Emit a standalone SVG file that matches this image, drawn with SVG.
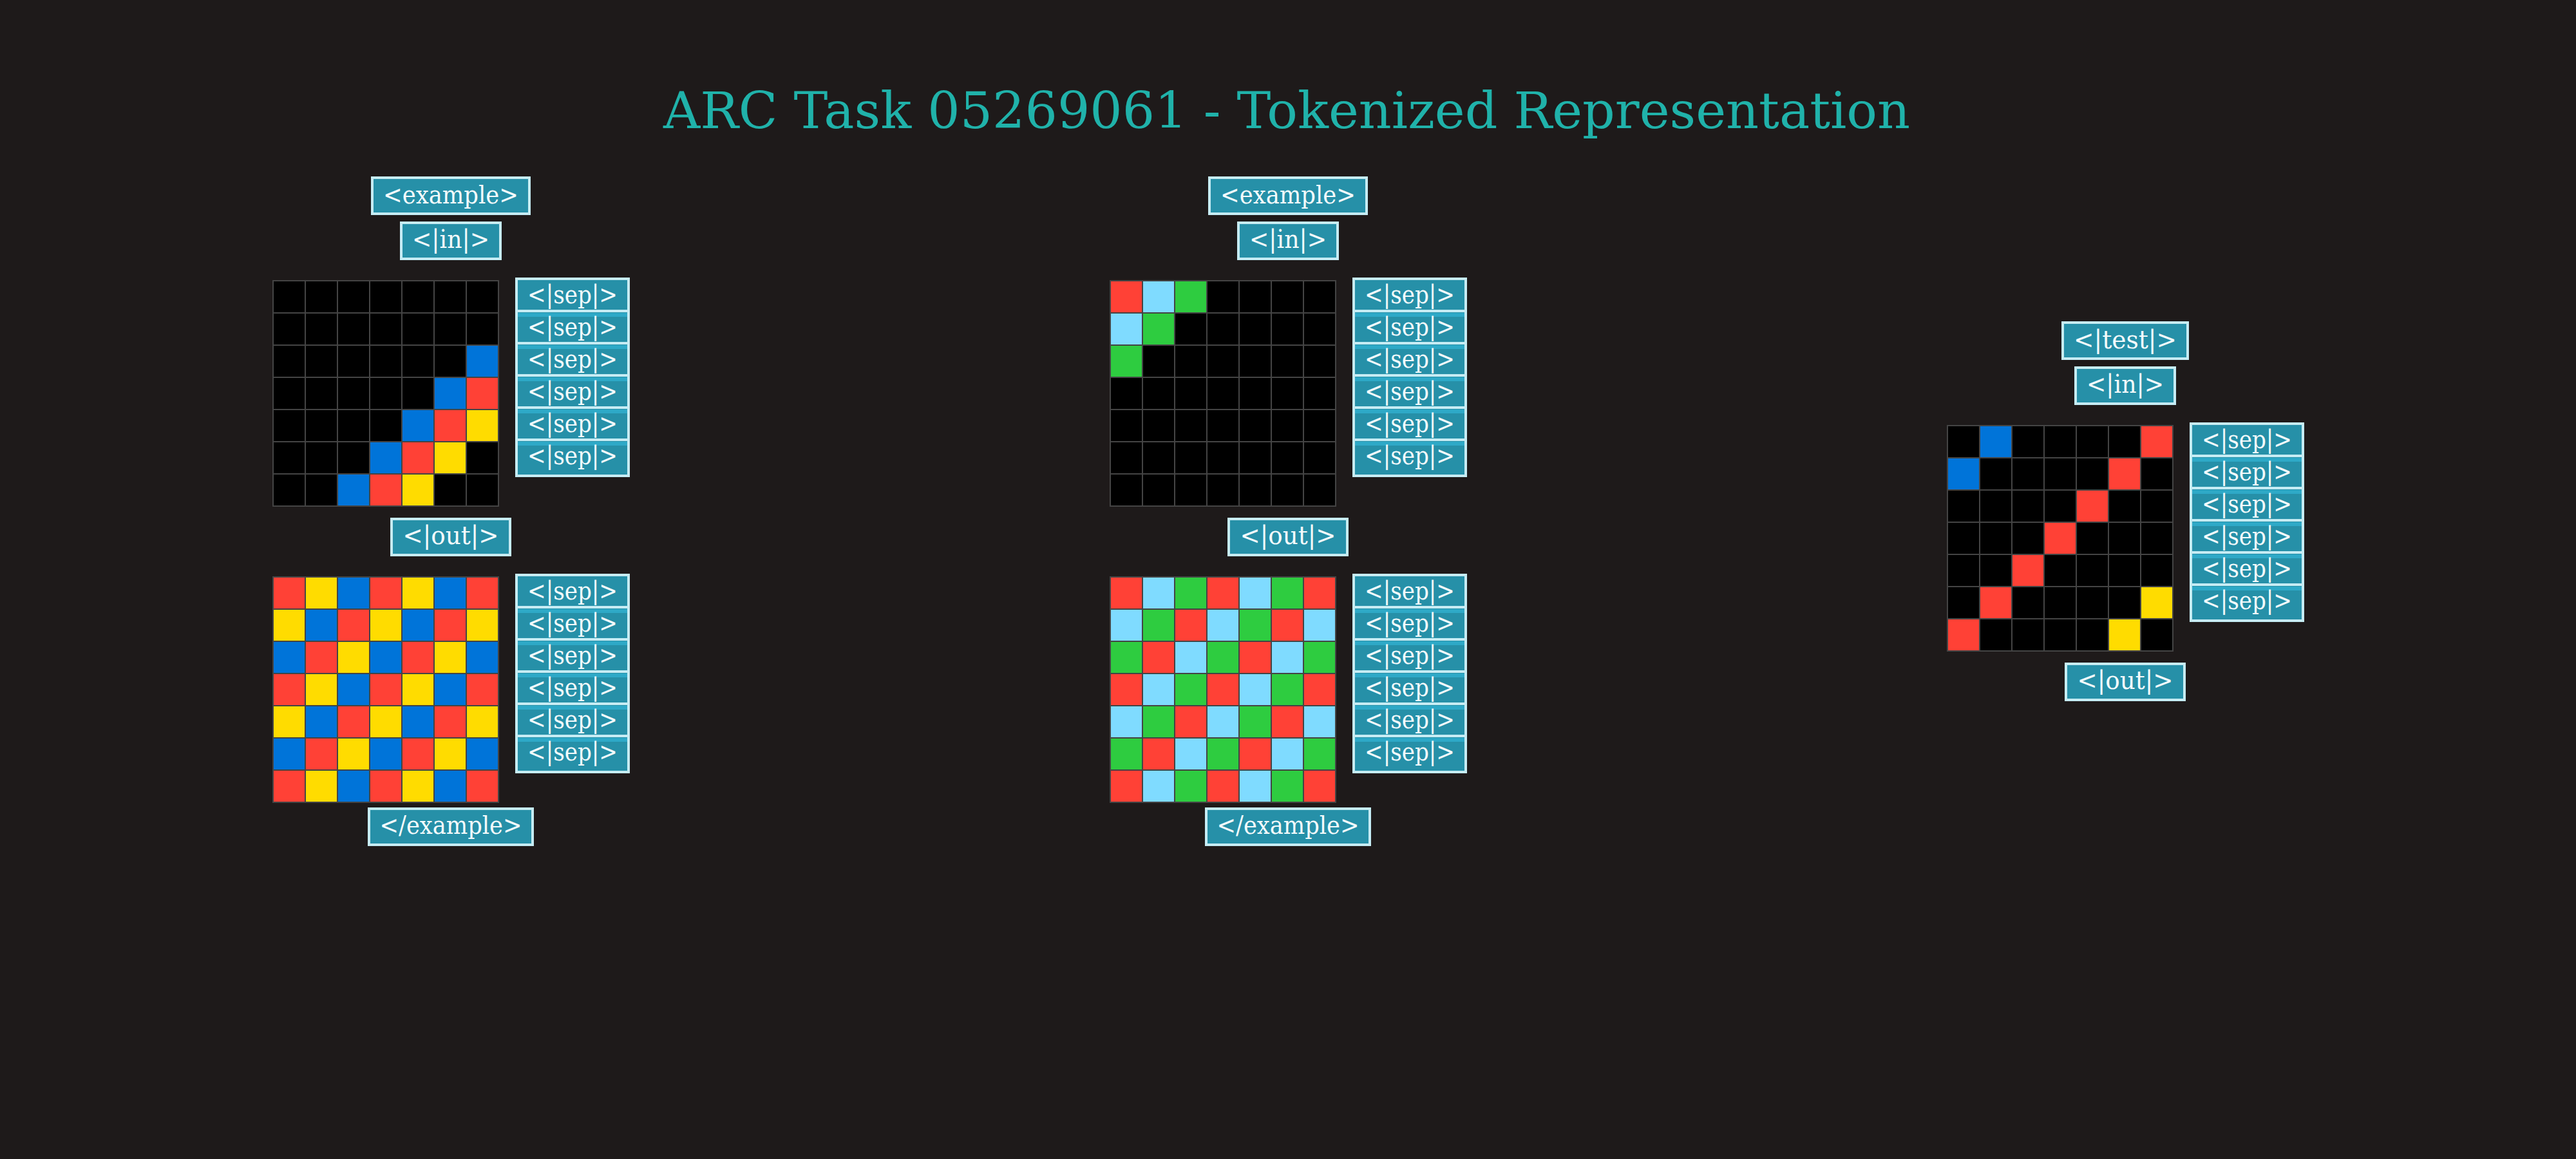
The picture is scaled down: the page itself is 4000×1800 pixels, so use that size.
<svg xmlns="http://www.w3.org/2000/svg" width="4000" height="1800" viewBox="0 0 4000 1800">
<style>
.bg{fill:#1e1a1a}
.title{font-family:"DejaVu Serif","Liberation Serif",serif;font-size:78px;fill:#20b2aa}
.box{fill:#2690a8;stroke:#c6ecf4;stroke-width:4}
.stripe{fill:#2ea9c7}
.lbl{font-family:"DejaVu Serif","Liberation Serif",serif;font-size:40px;fill:#f4fbfc;text-anchor:middle}
.k{fill:#000000}.b{fill:#0074d9}.r{fill:#ff4136}.y{fill:#ffdc00}.c{fill:#7fdbff}.g{fill:#2ecc40}
.gl{fill:none;stroke:#444444;stroke-width:2}
</style>
<defs>
<path id="lines" class="gl" d="M0,0H350V350H0Z M50,0V350 M100,0V350 M150,0V350 M200,0V350 M250,0V350 M300,0V350 M0,50H350 M0,100H350 M0,150H350 M0,200H350 M0,250H350 M0,300H350"/>
</defs>
<rect class="bg" x="0" y="0" width="4000" height="1800"/>
<text id="title" class="title" x="1030" y="199" textLength="1936" lengthAdjust="spacingAndGlyphs">ARC Task 05269061 - Tokenized Representation</text>

<g id="connectors"></g>

<!-- Example 1 -->
<g id="ex1-example"><rect class="box" x="578" y="276" width="244" height="56"/><text class="lbl" x="700" y="316" textLength="210" lengthAdjust="spacingAndGlyphs">&lt;example&gt;</text></g>
<g id="ex1-in"><rect class="box" x="623" y="346" width="154" height="56"/><text class="lbl" x="700" y="385" textLength="120" lengthAdjust="spacingAndGlyphs">&lt;|in|&gt;</text></g>
<g id="ex1-input-grid">
<rect class="k" x="424" y="436" width="350" height="350"/>
<rect class="b" x="724" y="536" width="50" height="50"/>
<rect class="b" x="674" y="586" width="50" height="50"/><rect class="r" x="724" y="586" width="50" height="50"/>
<rect class="b" x="624" y="636" width="50" height="50"/><rect class="r" x="674" y="636" width="50" height="50"/><rect class="y" x="724" y="636" width="50" height="50"/>
<rect class="b" x="574" y="686" width="50" height="50"/><rect class="r" x="624" y="686" width="50" height="50"/><rect class="y" x="674" y="686" width="50" height="50"/>
<rect class="b" x="524" y="736" width="50" height="50"/><rect class="r" x="574" y="736" width="50" height="50"/><rect class="y" x="624" y="736" width="50" height="50"/>
<use href="#lines" x="424" y="436"/>
</g>
<g id="ex1-in-sep">
<rect class="box" x="802" y="433" width="174" height="56"/><text class="lbl" x="889" y="471" textLength="140" lengthAdjust="spacingAndGlyphs">&lt;|sep|&gt;</text>
<rect class="box" x="802" y="483" width="174" height="56"/><rect class="stripe" x="804" y="486" width="170" height="6"/><text class="lbl" x="889" y="521" textLength="140" lengthAdjust="spacingAndGlyphs">&lt;|sep|&gt;</text>
<rect class="box" x="802" y="533" width="174" height="56"/><rect class="stripe" x="804" y="536" width="170" height="6"/><text class="lbl" x="889" y="571" textLength="140" lengthAdjust="spacingAndGlyphs">&lt;|sep|&gt;</text>
<rect class="box" x="802" y="583" width="174" height="56"/><rect class="stripe" x="804" y="586" width="170" height="6"/><text class="lbl" x="889" y="621" textLength="140" lengthAdjust="spacingAndGlyphs">&lt;|sep|&gt;</text>
<rect class="box" x="802" y="633" width="174" height="56"/><rect class="stripe" x="804" y="636" width="170" height="6"/><text class="lbl" x="889" y="671" textLength="140" lengthAdjust="spacingAndGlyphs">&lt;|sep|&gt;</text>
<rect class="box" x="802" y="683" width="174" height="56"/><rect class="stripe" x="804" y="686" width="170" height="6"/><text class="lbl" x="889" y="721" textLength="140" lengthAdjust="spacingAndGlyphs">&lt;|sep|&gt;</text>
</g>
<g id="ex1-out"><rect class="box" x="608" y="806" width="184" height="56"/><text class="lbl" x="700" y="845" textLength="149" lengthAdjust="spacingAndGlyphs">&lt;|out|&gt;</text></g>
<g id="ex1-output-grid">
<rect class="r" x="424" y="896" width="50" height="50"/><rect class="y" x="474" y="896" width="50" height="50"/><rect class="b" x="524" y="896" width="50" height="50"/><rect class="r" x="574" y="896" width="50" height="50"/><rect class="y" x="624" y="896" width="50" height="50"/><rect class="b" x="674" y="896" width="50" height="50"/><rect class="r" x="724" y="896" width="50" height="50"/>
<rect class="y" x="424" y="946" width="50" height="50"/><rect class="b" x="474" y="946" width="50" height="50"/><rect class="r" x="524" y="946" width="50" height="50"/><rect class="y" x="574" y="946" width="50" height="50"/><rect class="b" x="624" y="946" width="50" height="50"/><rect class="r" x="674" y="946" width="50" height="50"/><rect class="y" x="724" y="946" width="50" height="50"/>
<rect class="b" x="424" y="996" width="50" height="50"/><rect class="r" x="474" y="996" width="50" height="50"/><rect class="y" x="524" y="996" width="50" height="50"/><rect class="b" x="574" y="996" width="50" height="50"/><rect class="r" x="624" y="996" width="50" height="50"/><rect class="y" x="674" y="996" width="50" height="50"/><rect class="b" x="724" y="996" width="50" height="50"/>
<rect class="r" x="424" y="1046" width="50" height="50"/><rect class="y" x="474" y="1046" width="50" height="50"/><rect class="b" x="524" y="1046" width="50" height="50"/><rect class="r" x="574" y="1046" width="50" height="50"/><rect class="y" x="624" y="1046" width="50" height="50"/><rect class="b" x="674" y="1046" width="50" height="50"/><rect class="r" x="724" y="1046" width="50" height="50"/>
<rect class="y" x="424" y="1096" width="50" height="50"/><rect class="b" x="474" y="1096" width="50" height="50"/><rect class="r" x="524" y="1096" width="50" height="50"/><rect class="y" x="574" y="1096" width="50" height="50"/><rect class="b" x="624" y="1096" width="50" height="50"/><rect class="r" x="674" y="1096" width="50" height="50"/><rect class="y" x="724" y="1096" width="50" height="50"/>
<rect class="b" x="424" y="1146" width="50" height="50"/><rect class="r" x="474" y="1146" width="50" height="50"/><rect class="y" x="524" y="1146" width="50" height="50"/><rect class="b" x="574" y="1146" width="50" height="50"/><rect class="r" x="624" y="1146" width="50" height="50"/><rect class="y" x="674" y="1146" width="50" height="50"/><rect class="b" x="724" y="1146" width="50" height="50"/>
<rect class="r" x="424" y="1196" width="50" height="50"/><rect class="y" x="474" y="1196" width="50" height="50"/><rect class="b" x="524" y="1196" width="50" height="50"/><rect class="r" x="574" y="1196" width="50" height="50"/><rect class="y" x="624" y="1196" width="50" height="50"/><rect class="b" x="674" y="1196" width="50" height="50"/><rect class="r" x="724" y="1196" width="50" height="50"/>
<use href="#lines" x="424" y="896"/>
</g>
<g id="ex1-out-sep">
<rect class="box" x="802" y="893" width="174" height="56"/><text class="lbl" x="889" y="931" textLength="140" lengthAdjust="spacingAndGlyphs">&lt;|sep|&gt;</text>
<rect class="box" x="802" y="943" width="174" height="56"/><rect class="stripe" x="804" y="946" width="170" height="6"/><text class="lbl" x="889" y="981" textLength="140" lengthAdjust="spacingAndGlyphs">&lt;|sep|&gt;</text>
<rect class="box" x="802" y="993" width="174" height="56"/><rect class="stripe" x="804" y="996" width="170" height="6"/><text class="lbl" x="889" y="1031" textLength="140" lengthAdjust="spacingAndGlyphs">&lt;|sep|&gt;</text>
<rect class="box" x="802" y="1043" width="174" height="56"/><rect class="stripe" x="804" y="1046" width="170" height="6"/><text class="lbl" x="889" y="1081" textLength="140" lengthAdjust="spacingAndGlyphs">&lt;|sep|&gt;</text>
<rect class="box" x="802" y="1093" width="174" height="56"/><rect class="stripe" x="804" y="1096" width="170" height="6"/><text class="lbl" x="889" y="1131" textLength="140" lengthAdjust="spacingAndGlyphs">&lt;|sep|&gt;</text>
<rect class="box" x="802" y="1143" width="174" height="56"/><rect class="stripe" x="804" y="1146" width="170" height="6"/><text class="lbl" x="889" y="1181" textLength="140" lengthAdjust="spacingAndGlyphs">&lt;|sep|&gt;</text>
</g>
<g id="ex1-end"><rect class="box" x="573" y="1256" width="254" height="56"/><text class="lbl" x="700" y="1295" textLength="221" lengthAdjust="spacingAndGlyphs">&lt;/example&gt;</text></g>

<!-- Example 2 -->
<g id="ex2-example"><rect class="box" x="1878" y="276" width="244" height="56"/><text class="lbl" x="2000" y="316" textLength="210" lengthAdjust="spacingAndGlyphs">&lt;example&gt;</text></g>
<g id="ex2-in"><rect class="box" x="1923" y="346" width="154" height="56"/><text class="lbl" x="2000" y="385" textLength="120" lengthAdjust="spacingAndGlyphs">&lt;|in|&gt;</text></g>
<g id="ex2-input-grid">
<rect class="k" x="1724" y="436" width="350" height="350"/>
<rect class="r" x="1724" y="436" width="50" height="50"/><rect class="c" x="1774" y="436" width="50" height="50"/><rect class="g" x="1824" y="436" width="50" height="50"/>
<rect class="c" x="1724" y="486" width="50" height="50"/><rect class="g" x="1774" y="486" width="50" height="50"/>
<rect class="g" x="1724" y="536" width="50" height="50"/>
<use href="#lines" x="1724" y="436"/>
</g>
<g id="ex2-in-sep">
<rect class="box" x="2102" y="433" width="174" height="56"/><text class="lbl" x="2189" y="471" textLength="140" lengthAdjust="spacingAndGlyphs">&lt;|sep|&gt;</text>
<rect class="box" x="2102" y="483" width="174" height="56"/><rect class="stripe" x="2104" y="486" width="170" height="6"/><text class="lbl" x="2189" y="521" textLength="140" lengthAdjust="spacingAndGlyphs">&lt;|sep|&gt;</text>
<rect class="box" x="2102" y="533" width="174" height="56"/><rect class="stripe" x="2104" y="536" width="170" height="6"/><text class="lbl" x="2189" y="571" textLength="140" lengthAdjust="spacingAndGlyphs">&lt;|sep|&gt;</text>
<rect class="box" x="2102" y="583" width="174" height="56"/><rect class="stripe" x="2104" y="586" width="170" height="6"/><text class="lbl" x="2189" y="621" textLength="140" lengthAdjust="spacingAndGlyphs">&lt;|sep|&gt;</text>
<rect class="box" x="2102" y="633" width="174" height="56"/><rect class="stripe" x="2104" y="636" width="170" height="6"/><text class="lbl" x="2189" y="671" textLength="140" lengthAdjust="spacingAndGlyphs">&lt;|sep|&gt;</text>
<rect class="box" x="2102" y="683" width="174" height="56"/><rect class="stripe" x="2104" y="686" width="170" height="6"/><text class="lbl" x="2189" y="721" textLength="140" lengthAdjust="spacingAndGlyphs">&lt;|sep|&gt;</text>
</g>
<g id="ex2-out"><rect class="box" x="1908" y="806" width="184" height="56"/><text class="lbl" x="2000" y="845" textLength="149" lengthAdjust="spacingAndGlyphs">&lt;|out|&gt;</text></g>
<g id="ex2-output-grid">
<rect class="r" x="1724" y="896" width="50" height="50"/><rect class="c" x="1774" y="896" width="50" height="50"/><rect class="g" x="1824" y="896" width="50" height="50"/><rect class="r" x="1874" y="896" width="50" height="50"/><rect class="c" x="1924" y="896" width="50" height="50"/><rect class="g" x="1974" y="896" width="50" height="50"/><rect class="r" x="2024" y="896" width="50" height="50"/>
<rect class="c" x="1724" y="946" width="50" height="50"/><rect class="g" x="1774" y="946" width="50" height="50"/><rect class="r" x="1824" y="946" width="50" height="50"/><rect class="c" x="1874" y="946" width="50" height="50"/><rect class="g" x="1924" y="946" width="50" height="50"/><rect class="r" x="1974" y="946" width="50" height="50"/><rect class="c" x="2024" y="946" width="50" height="50"/>
<rect class="g" x="1724" y="996" width="50" height="50"/><rect class="r" x="1774" y="996" width="50" height="50"/><rect class="c" x="1824" y="996" width="50" height="50"/><rect class="g" x="1874" y="996" width="50" height="50"/><rect class="r" x="1924" y="996" width="50" height="50"/><rect class="c" x="1974" y="996" width="50" height="50"/><rect class="g" x="2024" y="996" width="50" height="50"/>
<rect class="r" x="1724" y="1046" width="50" height="50"/><rect class="c" x="1774" y="1046" width="50" height="50"/><rect class="g" x="1824" y="1046" width="50" height="50"/><rect class="r" x="1874" y="1046" width="50" height="50"/><rect class="c" x="1924" y="1046" width="50" height="50"/><rect class="g" x="1974" y="1046" width="50" height="50"/><rect class="r" x="2024" y="1046" width="50" height="50"/>
<rect class="c" x="1724" y="1096" width="50" height="50"/><rect class="g" x="1774" y="1096" width="50" height="50"/><rect class="r" x="1824" y="1096" width="50" height="50"/><rect class="c" x="1874" y="1096" width="50" height="50"/><rect class="g" x="1924" y="1096" width="50" height="50"/><rect class="r" x="1974" y="1096" width="50" height="50"/><rect class="c" x="2024" y="1096" width="50" height="50"/>
<rect class="g" x="1724" y="1146" width="50" height="50"/><rect class="r" x="1774" y="1146" width="50" height="50"/><rect class="c" x="1824" y="1146" width="50" height="50"/><rect class="g" x="1874" y="1146" width="50" height="50"/><rect class="r" x="1924" y="1146" width="50" height="50"/><rect class="c" x="1974" y="1146" width="50" height="50"/><rect class="g" x="2024" y="1146" width="50" height="50"/>
<rect class="r" x="1724" y="1196" width="50" height="50"/><rect class="c" x="1774" y="1196" width="50" height="50"/><rect class="g" x="1824" y="1196" width="50" height="50"/><rect class="r" x="1874" y="1196" width="50" height="50"/><rect class="c" x="1924" y="1196" width="50" height="50"/><rect class="g" x="1974" y="1196" width="50" height="50"/><rect class="r" x="2024" y="1196" width="50" height="50"/>
<use href="#lines" x="1724" y="896"/>
</g>
<g id="ex2-out-sep">
<rect class="box" x="2102" y="893" width="174" height="56"/><text class="lbl" x="2189" y="931" textLength="140" lengthAdjust="spacingAndGlyphs">&lt;|sep|&gt;</text>
<rect class="box" x="2102" y="943" width="174" height="56"/><rect class="stripe" x="2104" y="946" width="170" height="6"/><text class="lbl" x="2189" y="981" textLength="140" lengthAdjust="spacingAndGlyphs">&lt;|sep|&gt;</text>
<rect class="box" x="2102" y="993" width="174" height="56"/><rect class="stripe" x="2104" y="996" width="170" height="6"/><text class="lbl" x="2189" y="1031" textLength="140" lengthAdjust="spacingAndGlyphs">&lt;|sep|&gt;</text>
<rect class="box" x="2102" y="1043" width="174" height="56"/><rect class="stripe" x="2104" y="1046" width="170" height="6"/><text class="lbl" x="2189" y="1081" textLength="140" lengthAdjust="spacingAndGlyphs">&lt;|sep|&gt;</text>
<rect class="box" x="2102" y="1093" width="174" height="56"/><rect class="stripe" x="2104" y="1096" width="170" height="6"/><text class="lbl" x="2189" y="1131" textLength="140" lengthAdjust="spacingAndGlyphs">&lt;|sep|&gt;</text>
<rect class="box" x="2102" y="1143" width="174" height="56"/><rect class="stripe" x="2104" y="1146" width="170" height="6"/><text class="lbl" x="2189" y="1181" textLength="140" lengthAdjust="spacingAndGlyphs">&lt;|sep|&gt;</text>
</g>
<g id="ex2-end"><rect class="box" x="1873" y="1256" width="254" height="56"/><text class="lbl" x="2000" y="1295" textLength="221" lengthAdjust="spacingAndGlyphs">&lt;/example&gt;</text></g>

<!-- Test -->
<g id="test-test"><rect class="box" x="3203" y="501" width="194" height="56"/><text class="lbl" x="3300" y="541" textLength="160" lengthAdjust="spacingAndGlyphs">&lt;|test|&gt;</text></g>
<g id="test-in"><rect class="box" x="3223" y="571" width="154" height="56"/><text class="lbl" x="3300" y="610" textLength="120" lengthAdjust="spacingAndGlyphs">&lt;|in|&gt;</text></g>
<g id="test-input-grid">
<rect class="k" x="3024" y="661" width="350" height="350"/>
<rect class="b" x="3074" y="661" width="50" height="50"/><rect class="r" x="3324" y="661" width="50" height="50"/>
<rect class="b" x="3024" y="711" width="50" height="50"/><rect class="r" x="3274" y="711" width="50" height="50"/>
<rect class="r" x="3224" y="761" width="50" height="50"/>
<rect class="r" x="3174" y="811" width="50" height="50"/>
<rect class="r" x="3124" y="861" width="50" height="50"/>
<rect class="r" x="3074" y="911" width="50" height="50"/><rect class="y" x="3324" y="911" width="50" height="50"/>
<rect class="r" x="3024" y="961" width="50" height="50"/><rect class="y" x="3274" y="961" width="50" height="50"/>
<use href="#lines" x="3024" y="661"/>
</g>
<g id="test-in-sep">
<rect class="box" x="3402" y="658" width="174" height="56"/><text class="lbl" x="3489" y="696" textLength="140" lengthAdjust="spacingAndGlyphs">&lt;|sep|&gt;</text>
<rect class="box" x="3402" y="708" width="174" height="56"/><rect class="stripe" x="3404" y="711" width="170" height="6"/><text class="lbl" x="3489" y="746" textLength="140" lengthAdjust="spacingAndGlyphs">&lt;|sep|&gt;</text>
<rect class="box" x="3402" y="758" width="174" height="56"/><rect class="stripe" x="3404" y="761" width="170" height="6"/><text class="lbl" x="3489" y="796" textLength="140" lengthAdjust="spacingAndGlyphs">&lt;|sep|&gt;</text>
<rect class="box" x="3402" y="808" width="174" height="56"/><rect class="stripe" x="3404" y="811" width="170" height="6"/><text class="lbl" x="3489" y="846" textLength="140" lengthAdjust="spacingAndGlyphs">&lt;|sep|&gt;</text>
<rect class="box" x="3402" y="858" width="174" height="56"/><rect class="stripe" x="3404" y="861" width="170" height="6"/><text class="lbl" x="3489" y="896" textLength="140" lengthAdjust="spacingAndGlyphs">&lt;|sep|&gt;</text>
<rect class="box" x="3402" y="908" width="174" height="56"/><rect class="stripe" x="3404" y="911" width="170" height="6"/><text class="lbl" x="3489" y="946" textLength="140" lengthAdjust="spacingAndGlyphs">&lt;|sep|&gt;</text>
</g>
<g id="test-out"><rect class="box" x="3208" y="1031" width="184" height="56"/><text class="lbl" x="3300" y="1070" textLength="149" lengthAdjust="spacingAndGlyphs">&lt;|out|&gt;</text></g>
</svg>
